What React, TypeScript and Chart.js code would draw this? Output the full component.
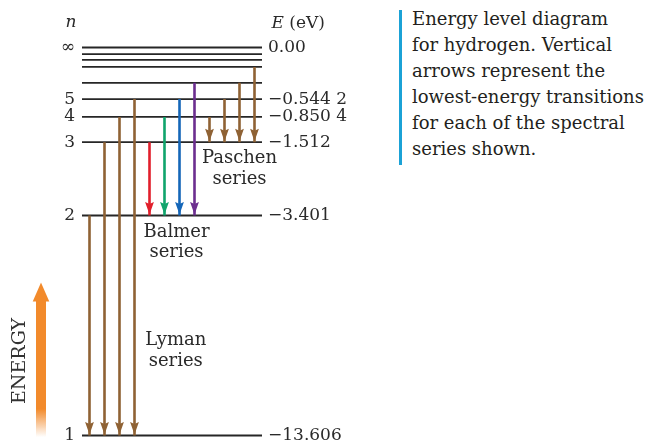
import React, { useEffect, useRef } from "react";
import { Chart, registerables } from "chart.js";

Chart.register(...registerables);

// ---- Data ----
// Principal quantum numbers of the drawn levels (top lines crowd toward n = ∞)
const levelN = ["1", "2", "3", "4", "5", "6", "7", "8", "9", "∞"];
// Schematic height of each level in the diagram (0 = ground state, 100 = ionisation)
const levelPos = [0, 56.7, 75.6, 82.1, 86.7, 90.9, 95.0, 96.8, 98.3, 100];
// Left tick labels (n) and right tick labels (E in eV)
const nTickLabels = ["1", "2", "3", "4", "5", "", "", "", "", "∞"];
const energyTickLabels = ["−13.606", "−3.401", "−1.512", "−0.850 4", "−0.544 2", "", "", "", "", "0.00"];

// Transitions (one arrow per entry, left to right)
const transitionSeries = ["Lyman", "Lyman", "Lyman", "Lyman", "Balmer", "Balmer", "Balmer", "Balmer", "Paschen", "Paschen", "Paschen", "Paschen"];
const transitionFrom = [2, 3, 4, 5, 3, 4, 5, 6, 4, 5, 6, 7];
const transitionTo = [1, 1, 1, 1, 2, 2, 2, 2, 3, 3, 3, 3];

const seriesNames = ["Paschen", "Balmer", "Lyman"];
const captionLines = [
  "Energy level diagram",
  "for hydrogen. Vertical",
  "arrows represent the",
  "lowest-energy transitions",
  "for each of the spectral",
  "series shown.",
];

// ---- Styles ----
const BROWN = "#8f6234";
const arrowColors = [BROWN, BROWN, BROWN, BROWN, "#e11f2b", "#10a46c", "#1466b8", "#6c2e8f", BROWN, BROWN, BROWN, BROWN];
const LINE = "#262626";
const TEXT = "#2a2a2a";
const SERIF = '"DejaVu Serif", serif';
// label anchors (slot x, level-height y of first baseline)
const seriesLabelAnchor: Record<string, { x: number; y: number }> = {
  Paschen: { x: 10, y: 70.15 },
  Balmer: { x: 5.8, y: 51.2 },
  Lyman: { x: 5.75, y: 23.3 },
};

const X_MIN = -0.5;
const X_MAX = 11.5;

const annotationsPlugin = {
  id: "energyAnnotations",
  afterDatasetsDraw(chart: any) {
    const ctx: CanvasRenderingContext2D = chart.ctx;
    const xs = chart.scales.x;
    const ys = chart.scales.y;
    const area = chart.chartArea;
    ctx.save();

    // arrowheads
    chart.data.datasets.forEach((ds: any, i: number) => {
      if (!ds._arrow) return;
      const meta = chart.getDatasetMeta(i);
      const end = meta.data[1];
      const tipX = end.x;
      const tipY = end.y - 1;
      ctx.fillStyle = ds.borderColor;
      ctx.beginPath();
      ctx.moveTo(tipX, tipY);
      ctx.lineTo(tipX - 4.4, tipY - 12.5);
      ctx.lineTo(tipX, tipY - 10.5);
      ctx.lineTo(tipX + 4.4, tipY - 12.5);
      ctx.closePath();
      ctx.fill();
    });

    // series labels
    ctx.fillStyle = TEXT;
    ctx.font = `18px ${SERIF}`;
    ctx.textAlign = "center";
    ctx.textBaseline = "alphabetic";
    seriesNames.forEach((name) => {
      const a = seriesLabelAnchor[name];
      const px = xs.getPixelForValue(a.x);
      const py = ys.getPixelForValue(a.y);
      ctx.fillText(name, px, py);
      ctx.fillText("series", px, py + 20.5);
    });

    // axis headings
    ctx.textAlign = "center";
    ctx.font = `italic 17px ${SERIF}`;
    ctx.fillText("n", area.left - 11, area.top - 21);
    ctx.textAlign = "left";
    const ex = area.right + 9.5;
    const ey = area.top - 19.5;
    ctx.font = `italic 17px ${SERIF}`;
    ctx.fillText("E", ex, ey);
    const ew = ctx.measureText("E").width;
    ctx.font = `17px ${SERIF}`;
    ctx.fillText(" (eV)", ex + ew, ey);

    // ENERGY arrow
    const cx = area.left - 41;
    const tip = area.top + 235;
    const headBase = tip + 19;
    const bottom = area.bottom + 1.5;
    const grad = ctx.createLinearGradient(0, bottom - 28, 0, bottom);
    grad.addColorStop(0, "#f28a2b");
    grad.addColorStop(1, "rgba(242,138,43,0)");
    ctx.fillStyle = "#f28a2b";
    ctx.beginPath();
    ctx.moveTo(cx, tip);
    ctx.lineTo(cx + 8.3, headBase);
    ctx.lineTo(cx - 8.3, headBase);
    ctx.closePath();
    ctx.fill();
    ctx.fillRect(cx - 5, headBase - 0.5, 10, bottom - 28 - headBase + 0.5);
    ctx.fillStyle = grad;
    ctx.fillRect(cx - 5, bottom - 28, 10, 28);

    // ENERGY text
    ctx.save();
    ctx.translate(area.left - 62, 361);
    ctx.rotate(-Math.PI / 2);
    ctx.fillStyle = "#333";
    ctx.font = `19px ${SERIF}`;
    ctx.textAlign = "center";
    ctx.textBaseline = "middle";
    ctx.fillText("ENERGY", 0, 0);
    ctx.restore();

    ctx.restore();
  },
};

export default function App() {
  const canvasRef = useRef<HTMLCanvasElement | null>(null);

  useEffect(() => {
    if (!canvasRef.current) return;

    const levelDatasets = levelPos.map((v, i) => ({
      label: `n = ${levelN[i]}`,
      data: [
        { x: X_MIN, y: v },
        { x: X_MAX, y: v },
      ],
      borderColor: LINE,
      borderWidth: 1.8,
      pointRadius: 0,
      clip: false,
      order: 2,
    }));

    const arrowDatasets = transitionFrom.map((from, i) => ({
      label: `${transitionSeries[i]} ${from}→${transitionTo[i]}`,
      data: [
        { x: i, y: levelPos[from - 1] },
        { x: i, y: levelPos[transitionTo[i] - 1] },
      ],
      borderColor: arrowColors[i],
      borderWidth: 2.6,
      borderCapStyle: "butt",
      pointRadius: 0,
      clip: false,
      order: 1,
      _arrow: true,
    }));

    const tickValues = levelPos.filter((_, i) => nTickLabels[i] !== "");
    const tickIdx = levelPos.map((_, i) => i).filter((i) => nTickLabels[i] !== "");

    const fitY = (w: number) => (s: any) => {
      s.width = w;
      s.paddingTop = 0;
      s.paddingBottom = 0;
    };

    const chart = new Chart(canvasRef.current, {
      type: "line",
      data: { datasets: [...arrowDatasets, ...levelDatasets] as any },
      plugins: [annotationsPlugin],
      options: {
        animation: false,
        responsive: false,
        events: [],
        layout: { padding: { top: 47.5, bottom: 8.5, left: 0, right: 0 } },
        plugins: { legend: { display: false }, tooltip: { enabled: false }, title: { display: false } },
        scales: {
          x: { type: "linear", min: X_MIN, max: X_MAX, display: false },
          y: {
            type: "linear",
            position: "left",
            min: 0,
            max: 100,
            grid: { display: false, drawTicks: false },
            border: { display: false },
            afterFit: fitY(82),
            afterBuildTicks: (s: any) => {
              s.ticks = tickValues.map((v) => ({ value: v }));
            },
            ticks: {
              autoSkip: false,
              padding: 7,
              color: TEXT,
              font: { family: SERIF, size: 17, lineHeight: 1 },
              callback: (_v: any, idx: number) => nTickLabels[tickIdx[idx]],
            },
          },
          y2: {
            type: "linear",
            position: "right",
            min: 0,
            max: 100,
            grid: { display: false, drawTicks: false },
            border: { display: false },
            afterFit: fitY(128),
            afterBuildTicks: (s: any) => {
              s.ticks = tickValues.map((v) => ({ value: v }));
            },
            ticks: {
              autoSkip: false,
              padding: 6,
              color: TEXT,
              font: { family: SERIF, size: 17, lineHeight: 1 },
              callback: (_v: any, idx: number) => energyTickLabels[tickIdx[idx]],
            },
          },
        },
      } as any,
    });

    return () => chart.destroy();
  }, []);

  return (
    <div style={{ position: "fixed", left: 0, top: 0, width: 650, height: 444, background: "#fff", overflow: "hidden" }}>
      <canvas ref={canvasRef} width={390} height={444} style={{ position: "absolute", left: 0, top: 0, width: 390, height: 444 }} />
      <div style={{ position: "absolute", left: 399, top: 10, width: 3, height: 155, background: "#1ba2d6" }} />
      <div
        style={{
          position: "absolute",
          left: 412,
          top: 6,
          fontFamily: SERIF,
          fontSize: 18,
          lineHeight: "26px",
          color: "#231f20",
          whiteSpace: "nowrap",
        }}
      >
        {captionLines.map((l, i) => (
          <div key={i}>{l}</div>
        ))}
      </div>
    </div>
  );
}
